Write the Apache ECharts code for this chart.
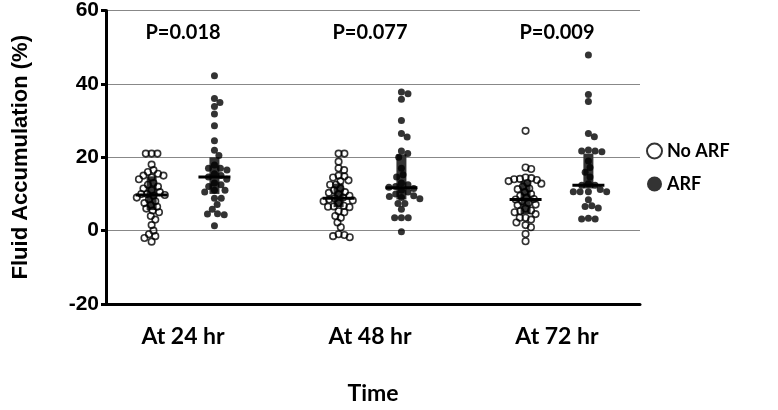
<!DOCTYPE html>
<html><head><meta charset="utf-8">
<script src="https://cdn.jsdelivr.net/npm/echarts@6/dist/echarts.min.js"></script>
<style>html,body{margin:0;padding:0;background:#fff}#c{width:778px;height:410px}</style>
</head><body><div id="c"></div>
<script>
const categories = ['At 24 hr', 'At 48 hr', 'At 72 hr'];
const pLabels = ['P=0.018', 'P=0.077', 'P=0.009'];
const yMin = -20, yMax = 60, yStep = 20;

const noArf24 = [21, 21, 21, 18, 16.5, 16, 15.5, 15, 15, 14.5, 14, 13, 12.5, 12, 11.5, 11, 10.5, 10, 10, 9.7, 9.5, 9, 8.5, 8, 7.5, 7, 6.5, 6, 5.5, 5, 4, 3, 1.5, 0, -1, -1.5, -2, -3];
const noArf48 = [21, 21, 18.8, 17, 16.5, 15, 14.8, 14.5, 13.7, 13.5, 12.5, 12.5, 11.5, 11, 10.5, 10.3, 10, 9.5, 9, 8.8, 8.5, 8.2, 8, 7.5, 6.8, 6.6, 6.5, 6.4, 5.3, 5, 4, 3.5, 2.2, 0.9, -1, -1.2, -1.5, -1.8];
const noArf72 = [27.2, 17.2, 16.8, 14.5, 14.3, 14.1, 14, 13.8, 13.5, 13, 12.8, 12, 11.5, 11.3, 10.5, 10, 9.5, 9, 8.6, 8.5, 8, 7.5, 7.1, 7, 6, 5.5, 5.3, 5, 4.5, 3.5, 3.5, 3, 2.2, 1.5, 0.9, -0.9, -2.9];
const arf24 = [42.2, 36, 34.9, 33.8, 31.8, 28.6, 24.5, 21.9, 20.5, 17.9, 17, 17, 16.5, 15.5, 15, 14.6, 14, 13, 12.5, 12, 11, 11, 10.5, 8.8, 8.8, 7.1, 5.8, 4.6, 4.5, 4.3, 1.3];
const arf48 = [37.8, 37.3, 35.8, 30, 26.5, 25.5, 21.7, 21, 20, 17, 15.2, 14.6, 13, 12.5, 12, 11.8, 11.5, 11, 10.5, 10, 9.5, 9.3, 9, 8.7, 7.4, 7.4, 5.8, 3.5, 3.5, 3.5, -0.3];
const arf72 = [47.9, 37.1, 35.2, 26.5, 25.6, 22, 21.7, 21.7, 21.5, 19, 17.2, 15.9, 14.6, 12.8, 12.4, 12.4, 11.2, 10.6, 10.6, 10.6, 10.6, 8.4, 6.8, 6.6, 6.2, 3.4, 3.2, 3.2];

const noArfMedian = [9.7, 8.8, 8.5];
const noArfQ1 = [5.6, 6.4, 4.5];
const noArfQ3 = [14.8, 12.8, 13.5];
const arfMedian = [14.6, 11.7, 12.4];
const arfQ1 = [10, 8.5, 11.5];
const arfQ3 = [20, 20.8, 21];

const noArfGroups = [noArf24, noArf48, noArf72];
const arfGroups = [arf24, arf48, arf72];

const GROUP_OFF = 0.168;
const P_LABEL_Y = 54;
const FONT_CAL = 'Lato, "Open Sans", sans-serif';
const FONT_ARIAL = '"Liberation Sans", Arial, sans-serif';

const chart = echarts.init(document.getElementById('c'), null, {renderer: 'canvas'});

function pointsFor(groups, off, offsets) {
  const out = [];
  groups.forEach((vals, ci) => {
    vals.forEach((v, i) => {
      const dx = offsets ? offsets[ci][i] : 0;
      out.push([ci + 1 + off + dx, v]);
    });
  });
  return out;
}

function statData(med, q1, q3, off) {
  return med.map((m, i) => [i + 1 + off, q1[i], q3[i], m]);
}

function buildOption(noOff, arfOff) {
  return {
    animation: false,
    grid: {left: 106, right: 138, top: 10, bottom: 100},
    legend: {
      orient: 'vertical', left: 641, top: 137, itemWidth: 15, itemHeight: 15, itemGap: 15,
      textStyle: {fontFamily: FONT_CAL, fontWeight: 'bold', fontSize: 18, color: '#000'},
      data: [
        {name: 'No ARF', icon: 'circle', itemStyle: {color: '#fff', borderColor: '#000', borderWidth: 2}},
        {name: 'ARF', icon: 'circle', itemStyle: {color: '#000'}}
      ]
    },
    xAxis: {
      type: 'value', min: 0.588, max: 3.444,
      splitLine: {show: false},
      axisLine: {show: true, onZero: false, lineStyle: {color: '#000', width: 3}},
      axisTick: {show: false},
      axisLabel: {
        customValues: [1, 2, 3], margin: 21,
        formatter: v => categories[Math.round(v) - 1] || '',
        fontFamily: FONT_CAL, fontWeight: 'bold', fontSize: 23, color: '#000'
      },
      name: 'Time', nameLocation: 'middle', nameGap: 78,
      nameTextStyle: {fontFamily: FONT_CAL, fontWeight: 'bold', fontSize: 23, color: '#000'}
    },
    yAxis: {
      type: 'value', min: yMin, max: yMax, interval: yStep,
      axisLine: {show: true, lineStyle: {color: '#000', width: 3}},
      axisTick: {show: true, length: 5, lineStyle: {color: '#000', width: 3}},
      axisLabel: {margin: 7, fontFamily: FONT_ARIAL, fontWeight: 'bold', fontSize: 21, color: '#000'},
      splitLine: {show: true, lineStyle: {color: '#888', width: 1}},
      name: 'Fluid Accumulation (%)', nameLocation: 'middle', nameGap: 74,
      nameTextStyle: {fontFamily: FONT_ARIAL, fontWeight: 'bold', fontSize: 22, color: '#000'}
    },
    series: [
      {
        type: 'custom', name: 'iqr', z: 1, silent: true,
        data: statData(noArfMedian, noArfQ1, noArfQ3, -GROUP_OFF).concat(statData(arfMedian, arfQ1, arfQ3, GROUP_OFF)),
        renderItem(params, api) {
          const x = api.value(0);
          const p1 = api.coord([x, api.value(1)]);
          const p3 = api.coord([x, api.value(2)]);
          return {type: 'rect', shape: {x: p1[0] - 5, y: p3[1], width: 10, height: p1[1] - p3[1]}, style: {fill: '#333'}};
        }
      },
      {
        type: 'scatter', name: 'No ARF', z: 3, symbol: 'circle', symbolSize: 6.5,
        itemStyle: {color: 'rgba(255,255,255,0)', borderColor: '#000', borderWidth: 1.6},
        data: pointsFor(noArfGroups, -GROUP_OFF, noOff)
      },
      {
        type: 'scatter', name: 'ARF', z: 3, symbol: 'circle', symbolSize: 7,
        itemStyle: {color: '#000'},
        data: pointsFor(arfGroups, GROUP_OFF, arfOff)
      },
      {
        type: 'custom', name: 'median', z: 5, silent: true,
        data: statData(noArfMedian, noArfQ1, noArfQ3, -GROUP_OFF).concat(statData(arfMedian, arfQ1, arfQ3, GROUP_OFF)),
        renderItem(params, api) {
          const x = api.value(0);
          const pm = api.coord([x, api.value(3)]);
          return {type: 'rect', shape: {x: pm[0] - 16, y: pm[1] - 1.5, width: 32, height: 3}, style: {fill: '#000'}};
        }
      },
      {
        type: 'custom', name: 'pvals', z: 6, silent: true,
        data: pLabels.map((t, i) => [i + 1, P_LABEL_Y]),
        renderItem(params, api) {
          const p = api.coord([api.value(0), api.value(1)]);
          return {
            type: 'text', x: p[0], y: p[1],
            style: {text: pLabels[params.dataIndex], fill: '#000', align: 'center', verticalAlign: 'middle',
              font: 'bold 20px ' + FONT_CAL}
          };
        }
      }
    ]
  };
}

chart.setOption(buildOption(null, null));

// beeswarm layout computed from values via the axis scales
function swarm(groups, diam) {
  const x0 = chart.convertToPixel({xAxisIndex: 0}, 1);
  const x1 = chart.convertToPixel({xAxisIndex: 0}, 2);
  const pxPerUnit = x1 - x0;
  return groups.map(vals => {
    const items = vals.map((v, i) => ({i, y: chart.convertToPixel({yAxisIndex: 0}, v)}));
    items.sort((a, b) => a.y - b.y);
    const placed = [];
    const res = new Array(vals.length).fill(0);
    items.forEach(it => {
      const cands = [0];
      placed.forEach(p => {
        const dy = Math.abs(p.y - it.y);
        if (dy < diam) {
          const dxx = Math.sqrt(diam * diam - dy * dy);
          cands.push(p.x + dxx + 0.01, p.x - dxx - 0.01);
        }
      });
      cands.sort((a, b) => Math.abs(a) - Math.abs(b));
      let chosen = 0;
      for (const c of cands) {
        let ok = true;
        for (const p of placed) {
          const dx = p.x - c, dy = p.y - it.y;
          if (dx * dx + dy * dy < diam * diam - 0.001) { ok = false; break; }
        }
        if (ok) { chosen = c; break; }
      }
      placed.push({x: chosen, y: it.y});
      res[it.i] = chosen / pxPerUnit;
    });
    return res;
  });
}

const noOffsets = swarm(noArfGroups, 5.8);
const arfOffsets = swarm(arfGroups, 6.8);
chart.setOption(buildOption(noOffsets, arfOffsets));
</script></body></html>
